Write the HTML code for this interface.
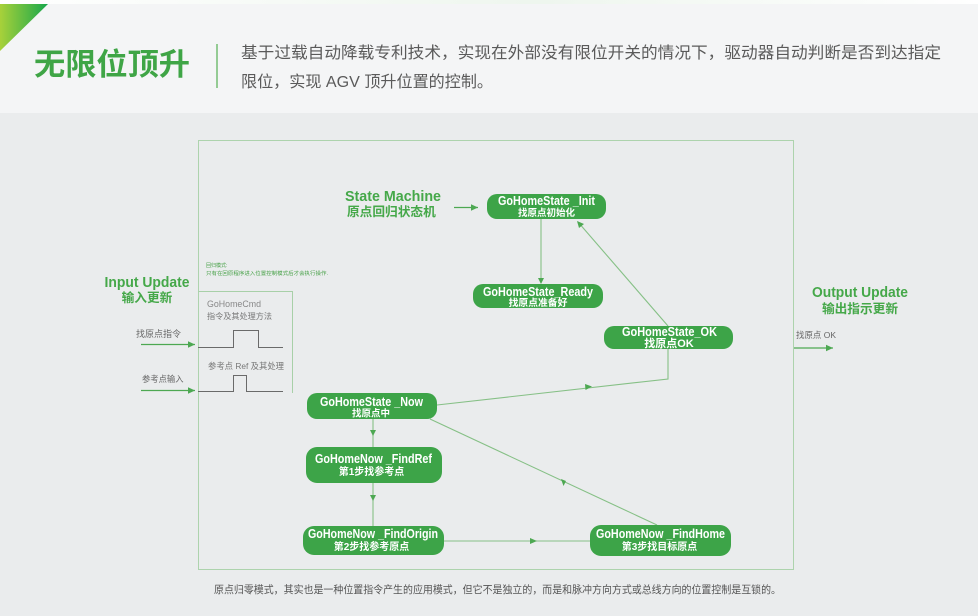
<!DOCTYPE html>
<html><head><meta charset="utf-8">
<style>
html,body{margin:0;padding:0;}
body{width:978px;height:616px;overflow:hidden;background:#eaeced;}
svg{display:block;}
</style></head>
<body>
<svg width="978" height="616" viewBox="0 0 978 616" xmlns="http://www.w3.org/2000/svg" font-family="Liberation Sans, Noto Sans CJK SC, sans-serif">
<defs>
<linearGradient id="tri" x1="0" y1="0" x2="1" y2="0">
<stop offset="0" stop-color="#a8d13a"/><stop offset="1" stop-color="#17a74b"/>
</linearGradient>
<linearGradient id="topg" x1="0" y1="0" x2="1" y2="0">
<stop offset="0" stop-color="#ffffff"/><stop offset="0.55" stop-color="#eef6ee"/><stop offset="1" stop-color="#ffffff"/>
</linearGradient>
<marker id="ah" markerWidth="8" markerHeight="8" refX="7" refY="4" orient="auto" markerUnits="userSpaceOnUse">
<path d="M0,0.8 L7,4 L0,7.2 Z" fill="#4da852"/>
</marker>
</defs>

<!-- header -->
<rect x="0" y="0" width="978" height="113" fill="#f4f5f6"/>
<rect x="0" y="0" width="978" height="4" fill="url(#topg)"/>
<polygon points="0,4 48,4 0,51" fill="url(#tri)"/>
<text x="34" y="75" font-size="30.5" font-weight="bold" fill="#3fa546" textLength="156" lengthAdjust="spacingAndGlyphs">无限位顶升</text>
<line x1="217" y1="44" x2="217" y2="88" stroke="#74bd74" stroke-width="1.5"/>
<text x="241" y="58" font-size="16" fill="#5a5a5a" textLength="700" lengthAdjust="spacingAndGlyphs">基于过载自动降载专利技术，实现在外部没有限位开关的情况下，驱动器自动判断是否到达指定</text>
<text x="241" y="87" font-size="16" fill="#5a5a5a" textLength="252" lengthAdjust="spacingAndGlyphs">限位，实现 AGV 顶升位置的控制。</text>

<!-- main frame -->
<rect x="198.5" y="140.5" width="595" height="429" fill="none" stroke="#add3ad" stroke-width="1"/>

<!-- input box -->
<polyline points="198.5,291.5 292.5,291.5 292.5,393" fill="none" stroke="#a8d0a8" stroke-width="1"/>
<text x="206" y="267" font-size="5" fill="#45a045">回归模式:</text>
<text x="206" y="275" font-size="5" fill="#45a045" textLength="122" lengthAdjust="spacingAndGlyphs">只有在回原程序进入位置控制模式后才会执行操作.</text>
<text x="207" y="307" font-size="9.5" fill="#888" textLength="54" lengthAdjust="spacingAndGlyphs">GoHomeCmd</text>
<text x="207" y="319" font-size="8.2" fill="#777" textLength="65" lengthAdjust="spacingAndGlyphs">指令及其处理方法</text>
<polyline points="198,347.5 233.5,347.5 233.5,330.5 258.5,330.5 258.5,347.5 283,347.5" fill="none" stroke="#6a6a6a" stroke-width="1"/>
<text x="208" y="369" font-size="8.5" fill="#777" textLength="76" lengthAdjust="spacingAndGlyphs">参考点 Ref 及其处理</text>
<polyline points="198,391.5 233.5,391.5 233.5,375.5 246.5,375.5 246.5,391.5 283,391.5" fill="none" stroke="#6a6a6a" stroke-width="1"/>

<text x="147" y="287" font-size="14.5" font-weight="bold" fill="#45a849" text-anchor="middle" textLength="85" lengthAdjust="spacingAndGlyphs">Input Update</text>
<text x="147" y="302" font-size="12.7" font-weight="bold" fill="#45a849" text-anchor="middle">输入更新</text>
<text x="136" y="337" font-size="9" fill="#666">找原点指令</text>
<line x1="141" y1="344.5" x2="195" y2="344.5" stroke="#4da852" stroke-width="1.3" marker-end="url(#ah)"/>
<text x="142" y="382" font-size="8.3" fill="#666">参考点输入</text>
<line x1="141" y1="390.5" x2="195" y2="390.5" stroke="#4da852" stroke-width="1.3" marker-end="url(#ah)"/>

<!-- output -->
<text x="860" y="297" font-size="14.5" font-weight="bold" fill="#45a849" text-anchor="middle" textLength="96" lengthAdjust="spacingAndGlyphs">Output Update</text>
<text x="860" y="313" font-size="12.7" font-weight="bold" fill="#45a849" text-anchor="middle">输出指示更新</text>
<text x="796" y="338" font-size="8.5" fill="#666" textLength="40" lengthAdjust="spacingAndGlyphs">找原点 OK</text>
<line x1="794" y1="348" x2="833" y2="348" stroke="#4da852" stroke-width="1.3" marker-end="url(#ah)"/>

<!-- state machine label -->
<text x="345" y="201" font-size="15" font-weight="bold" fill="#45a849" textLength="96" lengthAdjust="spacingAndGlyphs">State Machine</text>
<text x="347" y="216" font-size="12.7" font-weight="bold" fill="#45a849">原点回归状态机</text>
<line x1="454" y1="207.5" x2="478" y2="207.5" stroke="#4da852" stroke-width="1.2" marker-end="url(#ah)"/>

<!-- connectors -->
<g stroke="#86c086" stroke-width="1.1" fill="none">
<line x1="541" y1="219" x2="541" y2="283"/>
<line x1="668" y1="326" x2="578" y2="222"/>
<polyline points="437,405 668,379 668,349"/>
<line x1="373" y1="419" x2="373" y2="447"/>
<line x1="373" y1="483" x2="373" y2="526"/>
<line x1="444" y1="541" x2="590" y2="541"/>
<line x1="657" y1="525" x2="430" y2="419"/>
</g>
<g fill="#4da852">
<path d="M538,278 L544,278 L541,284 Z"/>
<path d="M577,221 L584,224 L579,228 Z"/>
<path d="M585,384 L592,386.5 L585.5,390 Z"/>
<path d="M370,430 L376,430 L373,436 Z"/>
<path d="M370,495 L376,495 L373,501 Z"/>
<path d="M530,538 L537,541 L530,544 Z"/>
<path d="M561,479 L566,481 L563.5,486 Z"/>
</g>

<!-- nodes -->
<g fill="#3da448">
<rect x="487" y="194" width="119" height="25" rx="10"/>
<rect x="473" y="284" width="130" height="24" rx="10"/>
<rect x="604" y="326" width="129" height="23" rx="10"/>
<rect x="307" y="393" width="130" height="26" rx="10"/>
<rect x="306" y="447" width="136" height="36" rx="11"/>
<rect x="303" y="526" width="141" height="29" rx="11"/>
<rect x="590" y="525" width="141" height="31" rx="11"/>
</g>
<g fill="#ffffff" text-anchor="middle">
<text x="546.5" y="205" font-size="12.5" font-weight="bold" textLength="97" lengthAdjust="spacingAndGlyphs">GoHomeState _Init</text>
<text x="546.5" y="216" font-size="9.5" font-weight="bold">找原点初始化</text>
<text x="538" y="296" font-size="12.5" font-weight="bold" textLength="110" lengthAdjust="spacingAndGlyphs">GoHomeState_Ready</text>
<text x="538" y="306" font-size="9.8" font-weight="bold">找原点准备好</text>
<text x="669.5" y="336" font-size="12.5" font-weight="bold" textLength="95" lengthAdjust="spacingAndGlyphs">GoHomeState_OK</text>
<text x="669" y="347" font-size="11" font-weight="bold">找原点OK</text>
<text x="371.5" y="406" font-size="12.5" font-weight="bold" textLength="103" lengthAdjust="spacingAndGlyphs">GoHomeState _Now</text>
<text x="371" y="416.5" font-size="9.5" font-weight="bold">找原点中</text>
<text x="373.5" y="463" font-size="12.5" font-weight="bold" textLength="117" lengthAdjust="spacingAndGlyphs">GoHomeNow _FindRef</text>
<text x="371.5" y="475" font-size="10" font-weight="bold">第1步找参考点</text>
<text x="373" y="538" font-size="12.5" font-weight="bold" textLength="130" lengthAdjust="spacingAndGlyphs">GoHomeNow _FindOrigin</text>
<text x="371.5" y="550" font-size="10" font-weight="bold">第2步找参考原点</text>
<text x="660.5" y="538" font-size="12.5" font-weight="bold" textLength="129" lengthAdjust="spacingAndGlyphs">GoHomeNow _FindHome</text>
<text x="659.5" y="550" font-size="10" font-weight="bold">第3步找目标原点</text>
</g>

<!-- caption -->
<text x="214" y="593" font-size="10.5" fill="#555" textLength="567" lengthAdjust="spacingAndGlyphs">原点归零模式，其实也是一种位置指令产生的应用模式，但它不是独立的，而是和脉冲方向方式或总线方向的位置控制是互锁的。</text>
</svg>
</body></html>
